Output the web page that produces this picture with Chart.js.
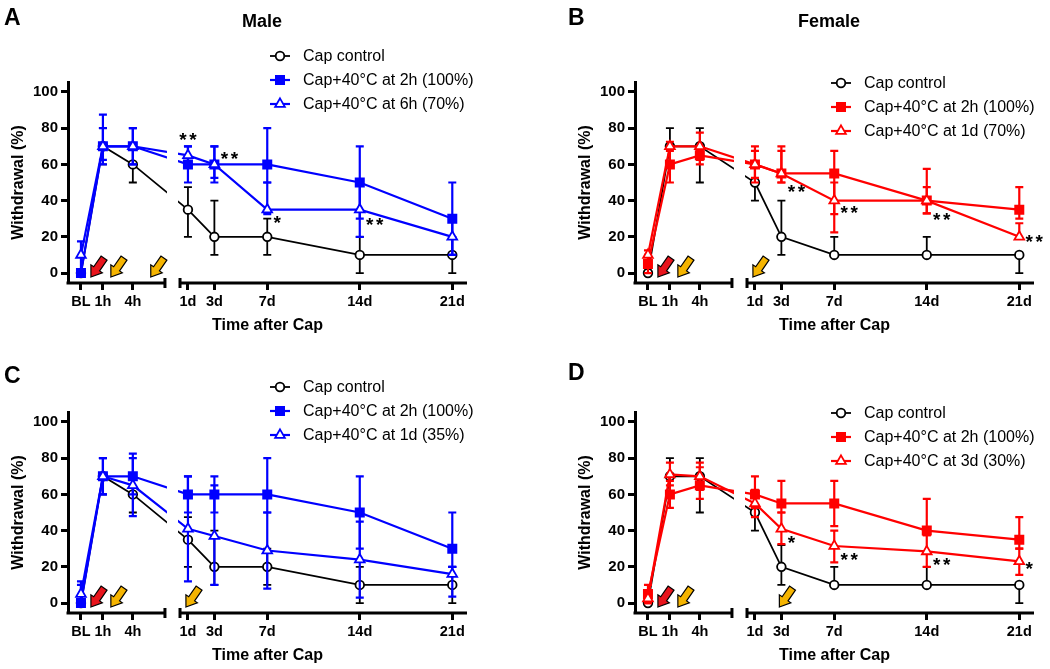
<!DOCTYPE html>
<html>
<head>
<meta charset="utf-8">
<script src="https://cdn.jsdelivr.net/npm/chart.js@4.4.1/dist/chart.umd.min.js"></script>
<style>
  html, body { margin: 0; padding: 0; background: #fff; }
  body { width: 1050px; height: 669px; position: relative; overflow: hidden; }
  canvas { position: absolute; }
</style>
</head>
<body>
<canvas id="graficoA" width="483" height="335" style="left:0;top:0"></canvas>
<canvas id="graficoB" width="483" height="335" style="left:567px;top:0"></canvas>
<canvas id="graficoC" width="483" height="335" style="left:0;top:330px"></canvas>
<canvas id="graficoD" width="483" height="335" style="left:567px;top:330px"></canvas>
<script>
const FONTE = 'Arial, "Liberation Sans", Helvetica, sans-serif';

/* --------- DADOS --------- */
const timeLabels = ['BL', '1h', '4h', '1d', '3d', '7d', '14d', '21d'];
const yTicks = [0, 20, 40, 60, 80, 100];

// A - Male, calor as 6h
const aLegend = ['Cap control', 'Cap+40°C at 2h (100%)', 'Cap+40°C at 6h (70%)'];
const aCtrl     = [0, 70, 60, 35, 20, 20, 10, 10];
const aCtrlHi   = [0, 80, 70, 47.5, 40, 30, 20, 20];
const aCtrlLo   = [0, 60, 50, 20, 10, 10, 0, 0];
const aHeat2h   = [0, 70, 70, 60, 60, 60, 50, 30];
const aHeat2hHi = [0, 80, 80, 70, 70, 80, 70, 50];
const aHeat2hLo = [0, 60, 60, 50, 50, 50, 30, 10];
const aLate     = [10, 70, 70, 65, 60, 35, 35, 20];
const aLateHi   = [17.5, 87.5, 80, 70, 70, 50, 50, 30];
const aLateLo   = [0, 62.5, 60, 60, 52.5, 32.5, 20, 10];
const aArrows   = ['0h', '2h', '6h'];
const aStarAt   = ['1d', '3d', '7d', '14d'];
const aStarY    = [76, 66, 30.4, 29.3];
const aStarTxt  = ['**', '**', '*', '**'];
const aStarSide = ['top', 'right', 'right', 'right'];

// B - Female, calor no 1d
const bLegend = ['Cap control', 'Cap+40°C at 2h (100%)', 'Cap+40°C at 1d (70%)'];
const bCtrl     = [0, 70, 70, 50, 20, 10, 10, 10];
const bCtrlHi   = [0, 80, 80, 60, 40, 20, 20, 10];
const bCtrlLo   = [0, 60, 50, 40, 10, 10, 10, 0];
const bHeat2h   = [5, 60, 65, 60, 55, 55, 40, 35];
const bHeat2hHi = [10, 70, 67.5, 70, 70, 67.5, 57.5, 47.5];
const bHeat2hLo = [0, 50, 60, 50, 50, 32.5, 33, 30];
const bLate     = [10, 70, 70, 60, 55, 40, 40, 20];
const bLateHi   = [12.5, 72.5, 77.5, 67.5, 67.5, 50, 47.5, 27.5];
const bLateLo   = [5, 67.5, 62.5, 52.5, 50, 22.5, 33, 20];
const bArrows   = ['0h', '2h', '1d'];
const bStarAt   = ['3d', '7d', '14d', '21d'];
const bStarY    = [47.3, 35.7, 32, 19.7];
const bStarTxt  = ['**', '**', '**', '**'];
const bStarSide = ['right', 'right', 'right', 'right'];

// C - Male, calor no 1d
const cLegend = ['Cap control', 'Cap+40°C at 2h (100%)', 'Cap+40°C at 1d (35%)'];
const cCtrl     = [0, 70, 60, 35, 20, 20, 10, 10];
const cCtrlHi   = [0, 80, 70, 47.5, 40, 30, 20, 20];
const cCtrlLo   = [0, 60, 50, 20, 10, 10, 0, 0];
const cHeat2h   = [0, 70, 70, 60, 60, 60, 50, 30];
const cHeat2hHi = [10, 80, 82.5, 70, 70, 80, 70, 50];
const cHeat2hLo = [0, 60, 60, 50, 50, 50, 30, 20];
const cLate     = [5, 70, 65, 41, 37, 29, 24, 16];
const cLateHi   = [12, 80, 80, 70, 65, 50, 45, 20];
const cLateLo   = [0, 60, 48, 12, 10, 8, 3, 3.5];
const cArrows   = ['0h', '2h', '1d'];
const cStarAt   = [];
const cStarY    = [];
const cStarTxt  = [];
const cStarSide = [];

// D - Female, calor no 3d
const dLegend = ['Cap control', 'Cap+40°C at 2h (100%)', 'Cap+40°C at 3d (30%)'];
const dCtrl     = [0, 70, 70, 50, 20, 10, 10, 10];
const dCtrlHi   = [0, 80, 80, 60, 32, 20, 20, 10];
const dCtrlLo   = [0, 60, 50, 40, 10, 10, 10, 0];
const dHeat2h   = [5, 60, 65, 60, 55, 55, 40, 35];
const dHeat2hHi = [10, 67.5, 75, 70, 67.5, 67.5, 57.5, 47.5];
const dHeat2hLo = [0, 52.5, 57.5, 52.5, 50, 42.5, 37.5, 30];
const dLate     = [2.5, 71, 70, 55, 41, 31.5, 28.5, 23];
const dLateHi   = [5, 77.5, 77.5, 62.5, 50, 40, 37.5, 30];
const dLateLo   = [0, 65, 62.5, 47.5, 32.5, 22.5, 20, 15.5];
const dArrows   = ['0h', '2h', '3d'];
const dStarAt   = ['3d', '7d', '14d', '21d'];
const dStarY    = [35.7, 26.5, 23.8, 21.5];
const dStarTxt  = ['*', '**', '**', '*'];
const dStarSide = ['right', 'right', 'right', 'right'];

/* --------- EIXO QUEBRADO --------- */
// horas a esquerda (1 unidade por hora), dias a direita
const INICIO_DIAS = 8.2, UNID_DIA = 1.325;
const QUEBRA_INI = 7.22, QUEBRA_FIM = 8.73;

function posEixo(rotulo) {
  if (rotulo === 'BL') return -1.2;
  const n = parseFloat(rotulo);
  return rotulo.endsWith('h') ? n : INICIO_DIAS + n * UNID_DIA;
}

const CORES_SETA = ['#e8141c', '#f5b400', '#f5b400'];

function desenhaSeta(ctx, xt, yt, cor) {
  ctx.save();
  ctx.translate(xt, yt);
  ctx.rotate(Math.atan2(0.82, -0.57)); // aponta para baixo/esquerda
  ctx.beginPath();
  ctx.moveTo(0, 0);
  ctx.lineTo(-10, -7);
  ctx.lineTo(-10, -3.6);
  ctx.lineTo(-23, -3.6);
  ctx.lineTo(-23, 3.6);
  ctx.lineTo(-10, 3.6);
  ctx.lineTo(-10, 7);
  ctx.closePath();
  ctx.fillStyle = cor;
  ctx.fill();
  ctx.lineWidth = 1.2;
  ctx.lineJoin = 'miter';
  ctx.strokeStyle = '#000';
  ctx.stroke();
  ctx.restore();
}

const decoracao = {
  id: 'decoracao',
  // barras de erro antes de cada serie, para ficarem por baixo das linhas
  beforeDatasetDraw(chart, args) {
    const ds = chart.data.datasets[args.index];
    if (!ds.erroSup) return;
    const { ctx, scales: { x, y } } = chart;
    ctx.save();
    ctx.strokeStyle = ds.borderColor;
    ctx.lineWidth = ds.borderWidth;
    ctx.beginPath();
    ds.data.forEach((p, i) => {
      const px = x.getPixelForValue(p.x);
      const py = y.getPixelForValue(p.y);
      const topo = y.getPixelForValue(ds.erroSup[i]);
      const base = y.getPixelForValue(ds.erroInf[i]);
      if (ds.erroSup[i] > p.y) {
        ctx.moveTo(px, py); ctx.lineTo(px, topo);
        ctx.moveTo(px - 4, topo); ctx.lineTo(px + 4, topo);
      }
      if (ds.erroInf[i] < p.y) {
        ctx.moveTo(px, py); ctx.lineTo(px, base);
        ctx.moveTo(px - 4, base); ctx.lineTo(px + 4, base);
      }
    });
    ctx.stroke();
    ctx.restore();
  },
  afterDatasetsDraw(chart, args, opts) {
    const { ctx, chartArea: area, scales: { x, y } } = chart;
    const xq1 = x.getPixelForValue(QUEBRA_INI);
    const xq2 = x.getPixelForValue(QUEBRA_FIM);

    // corta as linhas na quebra do eixo
    ctx.save();
    ctx.fillStyle = '#fff';
    ctx.fillRect(xq1 + 2, area.top, xq2 - xq1 - 4, area.bottom - area.top - 2);

    // eixo x em dois pedacos
    ctx.strokeStyle = '#000';
    ctx.lineWidth = 3;
    ctx.beginPath();
    ctx.moveTo(area.left - 1.5, area.bottom); ctx.lineTo(xq1, area.bottom);
    ctx.moveTo(xq2, area.bottom); ctx.lineTo(area.right, area.bottom);
    ctx.moveTo(xq1, area.bottom - 5); ctx.lineTo(xq1, area.bottom + 5);
    ctx.moveTo(xq2, area.bottom - 5); ctx.lineTo(xq2, area.bottom + 5);
    ctx.stroke();

    // setas de tratamento
    opts.setas.forEach((t, i) => {
      desenhaSeta(ctx, x.getPixelForValue(posEixo(t)) - 2, y.getPixelForValue(0) + 4, CORES_SETA[i]);
    });

    // asteriscos, um a um
    ctx.fillStyle = '#000';
    ctx.font = 'bold 19px ' + FONTE;
    ctx.textAlign = 'center';
    ctx.textBaseline = 'alphabetic';
    opts.estrelas.at.forEach((t, i) => {
      const n = opts.estrelas.txt[i].length;
      const larg = (n - 1) * 10;
      const px = x.getPixelForValue(posEixo(t));
      const py = y.getPixelForValue(opts.estrelas.y[i]) + 11;
      const x0 = opts.estrelas.lado[i] === 'top' ? px - larg / 2 : px + 10;
      for (let k = 0; k < n; k++) ctx.fillText('*', x0 + k * 10, py);
    });
    ctx.restore();
  },
  afterDraw(chart, args, opts) {
    const ctx = chart.ctx;
    ctx.save();
    ctx.fillStyle = '#000';
    ctx.textBaseline = 'alphabetic';
    ctx.textAlign = 'left';
    ctx.font = 'bold 23px ' + FONTE;
    ctx.fillText(opts.letra, opts.letraX, opts.letraY);
    if (opts.titulo) {
      ctx.font = 'bold 18px ' + FONTE;
      ctx.textAlign = 'center';
      ctx.fillText(opts.titulo, 262, 27);
    }

    // legenda
    ctx.font = '16px ' + FONTE;
    ctx.textAlign = 'left';
    ctx.textBaseline = 'middle';
    chart.data.datasets.forEach((ds, i) => {
      const ly = opts.legendaY + i * 24;
      const lx = opts.legendaX;
      ctx.strokeStyle = ds.borderColor;
      ctx.lineWidth = ds.borderWidth;
      ctx.beginPath();
      ctx.moveTo(lx, ly); ctx.lineTo(lx + 20, ly);
      ctx.stroke();
      ctx.fillStyle = ds.pointBackgroundColor;
      ctx.lineWidth = ds.pointBorderWidth;
      Chart.helpers.drawPoint(ctx, {
        pointStyle: ds.pointStyle, radius: ds.pointRadius, rotation: 0, borderWidth: ds.pointBorderWidth
      }, lx + 10, ly);
      ctx.fillStyle = '#000';
      ctx.fillText(ds.label, lx + 33, ly + 1);
    });
    ctx.restore();
  }
};

function serie(label, valores, sup, inf, cor, estilo, ordem) {
  const aberto = estilo !== 'rect';
  return {
    label,
    data: valores.map((v, i) => ({ x: posEixo(timeLabels[i]), y: v })),
    erroSup: sup,
    erroInf: inf,
    borderColor: cor,
    borderWidth: cor === '#000' ? 1.8 : 2.2,
    pointStyle: estilo,
    pointRadius: estilo === 'rect' ? 5.8 : (estilo === 'triangle' ? 5.6 : 4.3),
    pointHoverRadius: 4,
    pointBackgroundColor: aberto ? '#fff' : cor,
    pointBorderColor: cor,
    pointBorderWidth: 1.8,
    tension: 0,
    fill: false,
    order: ordem
  };
}

function montaPainel(id, cor, series, decor) {
  const ctx = document.getElementById(id).getContext('2d');
  return new Chart(ctx, {
    type: 'line',
    data: {
      datasets: [
        serie(decor.legenda[0], series[0], series[1], series[2], '#000', 'circle', 3),
        serie(decor.legenda[1], series[3], series[4], series[5], cor, 'rect', 2),
        serie(decor.legenda[2], series[6], series[7], series[8], cor, 'triangle', 1)
      ]
    },
    options: {
      responsive: false,
      animation: false,
      events: [],
      layout: { padding: { top: 82, right: 16, left: 0, bottom: 0 } },
      plugins: {
        legend: { display: false },
        tooltip: { enabled: false },
        decoracao: decor
      },
      scales: {
        x: {
          type: 'linear',
          min: -2.5,
          max: 37.5,
          afterBuildTicks: (s) => { s.ticks = timeLabels.map(l => ({ value: posEixo(l) })); },
          afterFit: (s) => { s.height = 52; },
          border: { display: false },
          grid: { drawOnChartArea: false, drawTicks: true, tickLength: 7, tickWidth: 3, tickColor: '#000', color: '#000' },
          ticks: {
            autoSkip: false, maxRotation: 0, padding: 3, color: '#000',
            font: { family: FONTE, size: 14.5, weight: 'bold' },
            callback: (v, i) => timeLabels[i]
          },
          title: {
            display: true, text: 'Time after Cap', color: '#000',
            font: { family: FONTE, size: 16, weight: 'bold' },
            padding: { top: 0, bottom: 0 }
          }
        },
        y: {
          min: -5.5,
          max: 105.5,
          afterBuildTicks: (s) => { s.ticks = yTicks.map(v => ({ value: v })); },
          afterFit: (s) => { s.width = 68; },
          border: { display: true, width: 3, color: '#000' },
          grid: { drawOnChartArea: false, drawTicks: true, tickLength: 7, tickWidth: 3, tickColor: '#000', color: '#000' },
          ticks: {
            padding: 3, color: '#000',
            font: { family: FONTE, size: 15, weight: 'bold' }
          },
          title: {
            display: true, text: 'Withdrawal (%)', color: '#000',
            font: { family: FONTE, size: 16, weight: 'bold' },
            padding: { top: 9, bottom: 0 }
          }
        }
      }
    },
    plugins: [decoracao]
  });
}

Chart.defaults.font.family = FONTE;

montaPainel('graficoA', '#0000ff',
  [aCtrl, aCtrlHi, aCtrlLo, aHeat2h, aHeat2hHi, aHeat2hLo, aLate, aLateHi, aLateLo],
  { letra: 'A', letraX: 4, letraY: 25, titulo: 'Male', legenda: aLegend, legendaX: 270, legendaY: 56,
    setas: aArrows, estrelas: { at: aStarAt, y: aStarY, txt: aStarTxt, lado: aStarSide } });

montaPainel('graficoB', '#ff0000',
  [bCtrl, bCtrlHi, bCtrlLo, bHeat2h, bHeat2hHi, bHeat2hLo, bLate, bLateHi, bLateLo],
  { letra: 'B', letraX: 1, letraY: 25, titulo: 'Female', legenda: bLegend, legendaX: 264, legendaY: 83,
    setas: bArrows, estrelas: { at: bStarAt, y: bStarY, txt: bStarTxt, lado: bStarSide } });

montaPainel('graficoC', '#0000ff',
  [cCtrl, cCtrlHi, cCtrlLo, cHeat2h, cHeat2hHi, cHeat2hLo, cLate, cLateHi, cLateLo],
  { letra: 'C', letraX: 4, letraY: 53, titulo: '', legenda: cLegend, legendaX: 270, legendaY: 57,
    setas: cArrows, estrelas: { at: cStarAt, y: cStarY, txt: cStarTxt, lado: cStarSide } });

montaPainel('graficoD', '#ff0000',
  [dCtrl, dCtrlHi, dCtrlLo, dHeat2h, dHeat2hHi, dHeat2hLo, dLate, dLateHi, dLateLo],
  { letra: 'D', letraX: 1, letraY: 50, titulo: '', legenda: dLegend, legendaX: 264, legendaY: 83,
    setas: dArrows, estrelas: { at: dStarAt, y: dStarY, txt: dStarTxt, lado: dStarSide } });
</script>
</body>
</html>
